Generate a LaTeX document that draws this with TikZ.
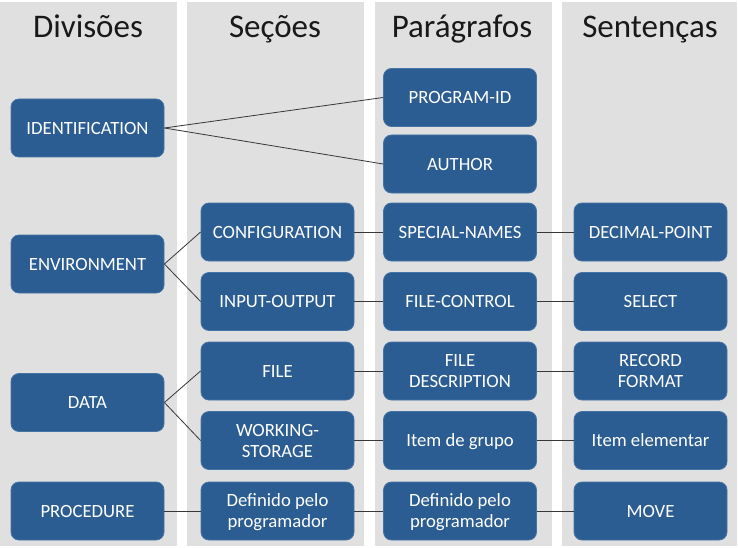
\documentclass[tikz,border=0pt]{standalone}
\usepackage{fontspec}
\setmainfont{Carlito}
\definecolor{boxblue}{RGB}{43,93,146}
\definecolor{boxedge}{RGB}{70,115,165}
\definecolor{panelgray}{RGB}{224,224,224}
\definecolor{linegray}{RGB}{55,55,55}
\begin{document}
\begin{tikzpicture}[x=1pt,y=-1pt,
  panel/.style={fill=panelgray,draw=none},
  hdr/.style={anchor=base,font=\fontsize{33}{38}\selectfont,text=black!90},
  cbox/.style={rounded corners=8pt,fill=boxblue,draw=boxedge,line width=0.8pt,
    text=white,minimum width=153pt,minimum height=58pt,inner sep=2pt,
    text depth=0pt,align=center,font=\fontsize{18.7}{21}\selectfont},
  link/.style={draw=linegray,line width=0.8pt}]
\useasboundingbox (0,0) rectangle (738,548);
\fill[white] (0,0) rectangle (738,548);
% panels
\path[panel] (0,2) rectangle (177,546);
\path[panel] (187,2) rectangle (364,546);
\path[panel] (375,2) rectangle (552,546);
\path[panel] (562,2) rectangle (737,546);
% headers
\node[hdr] (h1) at (88,38) {Divisões};
\node[hdr] (h2) at (275,38) {Seções};
\node[hdr] (h3) at (462,38) {Parágrafos};
\node[hdr] (h4) at (650,38) {Sentenças};
% column 1
\node[cbox] (ident) at (87.5,128) {IDENTIFICATION};
\node[cbox] (env) at (87.5,264) {ENVIRONMENT};
\node[cbox] (data) at (87.5,402.5) {DATA};
\node[cbox] (proc) at (87.5,511) {PROCEDURE};
% column 2
\node[cbox] (config) at (277.5,232) {CONFIGURATION};
\node[cbox] (io) at (277.5,301.5) {INPUT-OUTPUT};
\node[cbox] (file) at (277.5,371) {FILE};
\node[cbox] (ws) at (277.5,440.5) {WORKING-\\STORAGE};
\node[cbox] (def2) at (277.5,511) {Definido pelo\\programador};
% column 3
\node[cbox] (pid) at (460,97.5) {PROGRAM-ID};
\node[cbox] (author) at (460,164) {AUTHOR};
\node[cbox] (special) at (460,232) {SPECIAL-NAMES};
\node[cbox] (fc) at (460,301.5) {FILE-CONTROL};
\node[cbox] (fdesc) at (460,371) {FILE\\DESCRIPTION};
\node[cbox] (item) at (460,440.5) {Item de grupo};
\node[cbox] (def3) at (460,511) {Definido pelo\\programador};
% column 4
\node[cbox] (dp) at (650.5,232) {DECIMAL-POINT};
\node[cbox] (sel) at (650.5,301.5) {SELECT};
\node[cbox] (rec) at (650.5,371) {RECORD\\FORMAT};
\node[cbox] (elem) at (650.5,440.5) {Item elementar};
\node[cbox] (move) at (650.5,511) {MOVE};
% links
\draw[link] (ident.east) -- (pid.west);
\draw[link] (ident.east) -- (author.west);
\draw[link] (env.east) -- (config.west);
\draw[link] (env.east) -- (io.west);
\draw[link] (data.east) -- (file.west);
\draw[link] (data.east) -- (ws.west);
\draw[link] (proc) -- (def2);
\draw[link] (def2) -- (def3);
\draw[link] (def3) -- (move);
\draw[link] (config) -- (special);
\draw[link] (special) -- (dp);
\draw[link] (io) -- (fc);
\draw[link] (fc) -- (sel);
\draw[link] (file) -- (fdesc);
\draw[link] (fdesc) -- (rec);
\draw[link] (ws) -- (item);
\draw[link] (item) -- (elem);
\end{tikzpicture}
\end{document}
